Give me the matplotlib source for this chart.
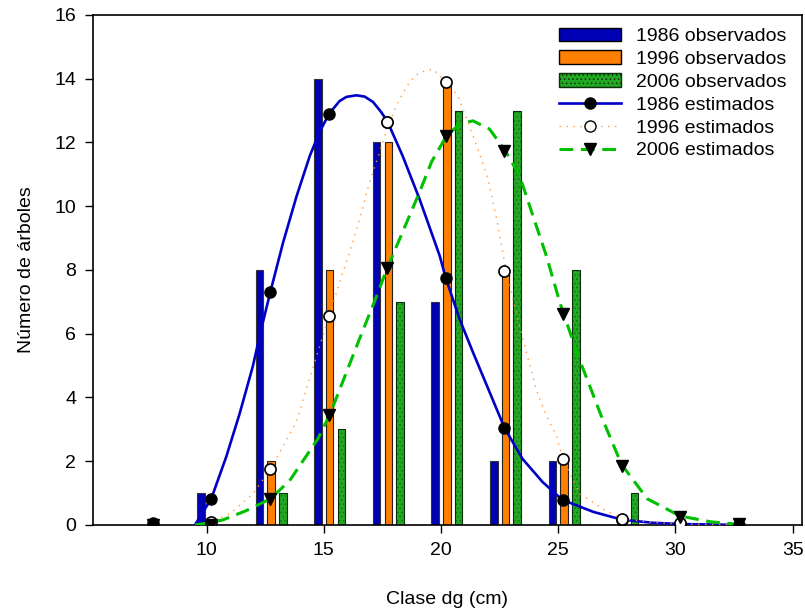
import numpy as np
import matplotlib
matplotlib.use("Agg")
import matplotlib.pyplot as plt
from matplotlib.patches import Patch
from matplotlib.lines import Line2D

plt.rcParams['font.family'] = ['Liberation Sans', 'DejaVu Sans']
plt.rcParams['hatch.linewidth'] = 0.6

# observed counts per diameter class
bar_classes = [10.2, 12.7, 15.2, 17.7, 20.2, 22.7, 25.2, 27.7]
obs1986 = [1, 8, 14, 12, 7, 2, 2, 0]
obs1996 = [0, 2, 8, 12, 14, 8, 2, 0]
obs2006 = [0, 1, 3, 7, 13, 13, 8, 1]

# estimated values at class centres (markers); nan where no marker is visible
classes = [7.7, 10.2, 12.7, 15.2, 17.7, 20.2, 22.7, 25.2, 27.7, 30.2, 32.7]
est1986 = [0.05, 0.83, 7.32, 12.9, 12.65, 7.75, 3.04, 0.79, 0.15, 0.03, 0.01]
est1996 = [np.nan, 0.08, 1.76, 6.55, 12.65, 13.9, 7.98, 2.07, 0.2, 0.05, np.nan]
est2006 = [0.0, 0.0, 0.82, 3.45, 8.05, 12.2, 11.74, 6.62, 1.85, 0.25, 0.02]

# fitted curves
curve1986_x = [9.5, 10.2, 10.84, 11.41, 11.97, 12.33, 12.72, 13.26, 13.83, 14.4, 14.82,
               15.22, 15.67, 15.96, 16.39, 16.74, 17.1, 17.45, 17.72, 18.36, 19.08, 19.94,
               20.2, 20.79, 21.36, 22.07, 22.71, 23.48, 24.33, 25.17, 26.5, 27.7, 29.0,
               30.2, 32.7]
curve1986_y = [0.0, 0.83, 2.15, 3.5, 4.98, 6.15, 7.32, 8.86, 10.3, 11.58, 12.33,
               12.9, 13.3, 13.43, 13.48, 13.44, 13.27, 12.95, 12.65, 11.58, 10.23, 8.45,
               7.75, 6.46, 5.42, 4.17, 3.04, 2.07, 1.35, 0.79, 0.41, 0.17, 0.07,
               0.03, 0.0]

curve1996_x = [9.8, 10.13, 10.98, 11.97, 12.72, 13.12, 13.83, 14.52, 15.22, 15.8, 16.1,
               16.53, 16.95, 17.38, 17.8, 18.23, 18.66, 19.08, 19.65, 20.15, 20.72, 21.3,
               21.57, 22.0, 22.4, 22.72, 23.2, 23.64, 24.06, 24.49, 24.92, 25.2, 25.9,
               26.9, 27.7, 29.0, 30.2, 32.7]
curve1996_y = [0.0, 0.08, 0.35, 0.97, 1.76, 2.29, 3.23, 4.9, 6.55, 7.9, 8.56,
               9.6, 10.76, 11.7, 12.64, 13.36, 13.9, 14.2, 14.3, 13.95, 13.47, 12.33,
               11.8, 10.86, 9.5, 8.2, 6.68, 5.42, 4.25, 3.43, 2.8, 2.07, 1.0,
               0.5, 0.2, 0.08, 0.03, 0.0]

curve2006_x = [9.5, 10.2, 10.7, 11.69, 12.72, 13.54, 14.74, 15.25, 16.5, 17.1, 17.7,
               19.08, 19.6, 20.23, 20.79, 21.36, 22.07, 22.74, 23.35, 23.92, 24.49,
               25.06, 25.23, 25.9, 26.9, 27.7, 28.8, 30.2, 31.5, 32.7]
curve2006_y = [0.0, 0.08, 0.16, 0.45, 0.82, 1.39, 2.7, 3.45, 5.8, 6.9, 8.05,
               10.44, 11.4, 12.2, 12.58, 12.68, 12.42, 11.74, 10.96, 9.7, 8.45,
               7.0, 6.62, 5.2, 3.3, 1.9, 0.82, 0.28, 0.1, 0.02]

blue = '#0000B4'
orange = '#FF8000'
green = '#22A822'
hatch_green = '#157015'
line_blue = '#0000C8'
line_orange = '#FF9A40'
line_green = '#00C000'

fig = plt.figure(figsize=(8.05, 6.12), dpi=100)
ax = fig.add_axes([0.1155, 0.1422, 0.8808, 0.8333])

bx = np.array(bar_classes)
w = 0.32
ax.bar(bx - 0.45, obs1986, width=w, color=blue, edgecolor='#333333', linewidth=0.8, zorder=2)
ax.bar(bx + 0.05, obs1996, width=w, color=orange, edgecolor='#222222', linewidth=0.8, zorder=2)
# green bars: hatched fill, then a dark outline on top
ax.bar(bx + 0.55, obs2006, width=w, color=green, edgecolor=hatch_green, linewidth=0,
       hatch='....', zorder=2)
ax.bar(bx + 0.55, obs2006, width=w, fill=False, edgecolor='#0B2F0B', linewidth=0.8, zorder=2)

ax.plot(curve1986_x, curve1986_y, color=line_blue, lw=1.9, zorder=3)
ax.plot(curve1996_x, curve1996_y, color=line_orange, lw=1.0, linestyle=(0, (1, 4)), zorder=3)
ax.plot(curve2006_x, curve2006_y, color=line_green, lw=2.2, linestyle=(0, (4.5, 2.5)), zorder=3)

ax.plot(classes, est1986, 'o', color='black', markersize=8, zorder=4)
ax.plot(classes, est1996, 'o', markerfacecolor='white', markeredgecolor='black',
        markeredgewidth=1.2, markersize=8, zorder=5)
ax.plot(classes, est2006, 'v', color='black', markersize=8.5, zorder=6)

ax.set_xlim(5.15, 35.4)
ax.set_ylim(0, 16)
ax.set_xticks([10, 15, 20, 25, 30, 35])
ax.set_yticks(np.arange(0, 17, 2))
ax.tick_params(direction='out', length=6, width=1, labelsize=14, pad=6)
for s in ax.spines.values():
    s.set_linewidth(1.2)

ax.set_xlabel('Clase dg (cm)', fontsize=14, labelpad=23)
ax.set_ylabel('Número de árboles', fontsize=14, labelpad=14)

handles = [
    Patch(facecolor=blue, edgecolor='black', label='1986 observados'),
    Patch(facecolor=orange, edgecolor='black', label='1996 observados'),
    Patch(facecolor=green, edgecolor='#0B2F0B', hatch='....', label='2006 observados'),
    Line2D([], [], color=line_blue, lw=1.9, marker='o', markerfacecolor='black',
           markeredgecolor='black', markersize=8, label='1986 estimados'),
    Line2D([], [], color=line_orange, lw=1.0, linestyle=(0, (1, 4)), marker='o',
           markerfacecolor='white', markeredgecolor='black', markersize=8, label='1996 estimados'),
    Line2D([], [], color=line_green, lw=2.2, linestyle=(0, (4.5, 2.5)), marker='v',
           markerfacecolor='black', markeredgecolor='black', markersize=8.5, label='2006 estimados'),
]
fig.legend(handles=handles, loc='upper left', bbox_to_anchor=(0.694, 0.955),
           frameon=False, fontsize=14, handlelength=3.2, handletextpad=0.8,
           labelspacing=0.27, borderpad=0, borderaxespad=0)

fig.savefig('out.png', dpi=100)
